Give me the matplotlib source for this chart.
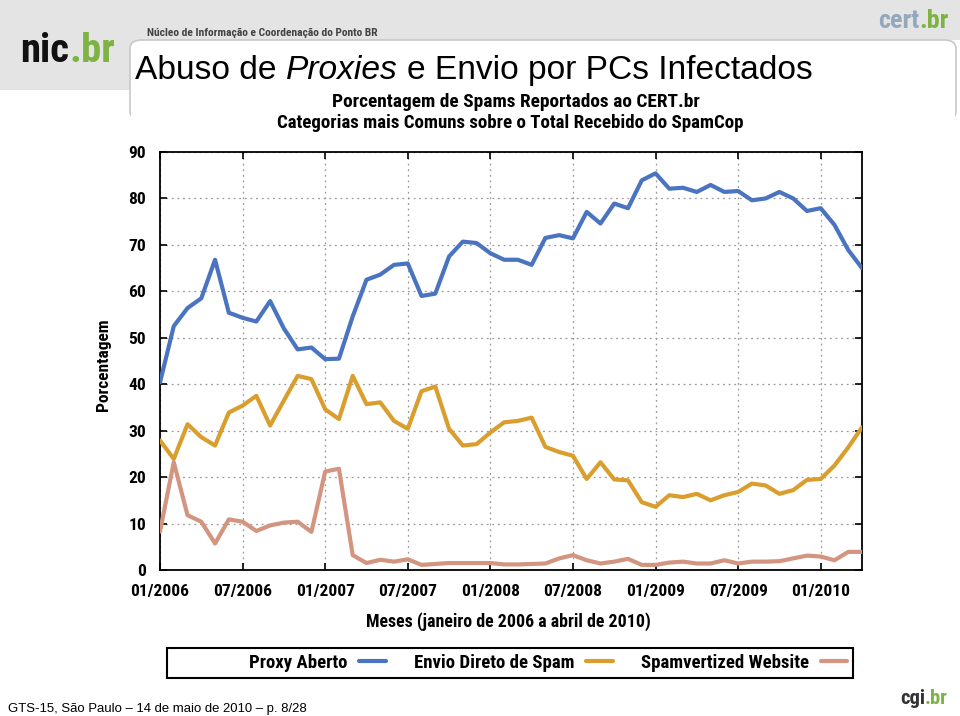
import matplotlib
matplotlib.use("Agg")
import matplotlib.pyplot as plt
from matplotlib.patches import Rectangle, FancyBboxPatch
from matplotlib import font_manager as fm

W, H = 960, 716

months = list(range(52))
tick_pos = [0, 6, 12, 18, 24, 30, 36, 42, 48]
tick_labels = ["01/2006", "07/2006", "01/2007", "07/2007", "01/2008",
               "07/2008", "01/2009", "07/2009", "01/2010"]

proxy_aberto = [40.4, 52.5, 56.4, 58.5, 66.8, 55.4, 54.3, 53.5, 57.9, 52.0,
                47.5, 47.9, 45.4, 45.5, 54.6, 62.5, 63.6, 65.7, 66.0, 59.0,
                59.5, 67.5, 70.7, 70.4, 68.2, 66.8, 66.8, 65.7, 71.5, 72.1,
                71.4, 77.1, 74.6, 78.9, 77.9, 83.9, 85.4, 82.1, 82.3, 81.4,
                82.9, 81.4, 81.6, 79.6, 80.0, 81.4, 80.0, 77.3, 77.9, 74.3,
                68.9, 65.0]
envio_direto = [27.9, 23.9, 31.4, 28.6, 26.8, 33.9, 35.4, 37.5, 31.1, 36.5,
                41.8, 41.1, 34.6, 32.5, 41.8, 35.7, 36.1, 32.1, 30.4, 38.5,
                39.5, 30.4, 26.8, 27.1, 29.6, 31.8, 32.1, 32.8, 26.5, 25.4,
                24.6, 19.6, 23.2, 19.5, 19.3, 14.6, 13.6, 16.1, 15.7, 16.4,
                15.0, 16.1, 16.8, 18.6, 18.2, 16.4, 17.2, 19.4, 19.6, 22.5,
                26.4, 30.7]
spamvertized = [8.3, 23.2, 11.8, 10.4, 5.7, 10.9, 10.4, 8.4, 9.6, 10.2,
                10.4, 8.2, 21.2, 21.8, 3.2, 1.5, 2.2, 1.8, 2.3, 1.1,
                1.3, 1.5, 1.5, 1.5, 1.5, 1.2, 1.2, 1.3, 1.4, 2.5,
                3.2, 2.1, 1.4, 1.8, 2.4, 1.1, 1.1, 1.6, 1.8, 1.4,
                1.4, 2.1, 1.4, 1.8, 1.8, 1.9, 2.5, 3.1, 2.9, 2.1,
                3.9, 3.9]

series_names = ["Proxy Aberto", "Envio Direto de Spam", "Spamvertized Website"]
colors = ["#4a74c0", "#d99e2e", "#d39480"]

# choose a narrow bold face if one is installed
ttf = fm.fontManager.ttflist
names = {f.name for f in ttf}
NARROW = {"family": "Roboto"}
if "Liberation Sans Narrow" in names:
    NARROW = {"family": "Liberation Sans Narrow"}
elif "Roboto Condensed" in names:
    NARROW = {"family": "Roboto Condensed"}
elif any(f.name == "DejaVu Sans" and str(f.stretch) in ("condensed", "semi-condensed", "75", "87")
         for f in ttf):
    NARROW = {"family": "DejaVu Sans", "fontstretch": "condensed"}
elif "Roboto" not in names:
    NARROW = {"family": "Liberation Sans"}
SANS = "Liberation Sans"

fig = plt.figure(figsize=(W / 100, H / 100), dpi=100)
fig.patch.set_facecolor("white")

def fx(px):
    return px / W

def fy(py):
    return 1 - py / H

# slide header background
fig.patches.append(Rectangle((0, fy(40)), 1, 40 / H, transform=fig.transFigure,
                             facecolor="#e4e4e4", edgecolor="none", zorder=0))
fig.patches.append(Rectangle((0, fy(90)), fx(135), 90 / H, transform=fig.transFigure,
                             facecolor="#e4e4e4", edgecolor="none", zorder=0))
fig.patches.append(FancyBboxPatch((fx(130), fy(120)), fx(826), 80 / H,
                                  boxstyle="round,pad=0,rounding_size=0.012",
                                  transform=fig.transFigure, facecolor="white",
                                  edgecolor="#c8c8c8", linewidth=1.2, zorder=0.5))
fig.patches.append(Rectangle((fx(131), fy(125)), fx(824), 40 / H, transform=fig.transFigure,
                             facecolor="white", edgecolor="none", zorder=0.6))

renderer = fig.canvas.get_renderer()

def seq_text(x_px, y_px, parts, size, width_px=None, gap_em=0.0, **kw):
    """Draw pieces side by side; scale font so total width matches width_px."""
    def draw(sz):
        x = x_px
        made = []
        for s, props in parts:
            d = dict(kw)
            d.update(props)
            t = fig.text(fx(x), fy(y_px), s, ha="left", va="baseline", fontsize=sz, **d)
            made.append(t)
            bb = t.get_window_extent(renderer)
            x += bb.width + gap_em * sz * 100 / 72
        return made, x - x_px - gap_em * sz * 100 / 72
    made, w = draw(size)
    if width_px is not None and w > 0:
        for t in made:
            t.remove()
        made, w = draw(size * width_px / w)
    return made

def fit_text(x_px, y_px, s, size, width_px, ha="left", **kw):
    t = fig.text(fx(x_px), fy(y_px), s, ha=ha, va="baseline", fontsize=size, **kw)
    w = t.get_window_extent(renderer).width
    if w > 0:
        t.set_fontsize(size * width_px / w)
    return t

# logos
seq_text(20, 62, [("nic", {"color": "#111111"}), (".br", {"color": "#7cb342"})],
         36, width_px=95, fontweight="bold", zorder=3, **NARROW)
seq_text(878, 28, [("cert", {"color": "#93a8bd"}), (".br", {"color": "#7cb342"})],
         20, width_px=70, fontweight="bold", zorder=3, **NARROW)
seq_text(900, 704, [("cgi", {"color": "#333333"}), (".br", {"color": "#7cb342"})],
         20, width_px=48, fontweight="bold", zorder=3, **NARROW)

fit_text(147, 36, "Núcleo de Informação e Coordenação do Ponto BR", 8, 232,
         fontweight="bold", color="#444444", **NARROW)

# slide title
seq_text(135, 79, [("Abuso de", {}), ("Proxies", {"style": "italic"}),
                   ("e Envio por PCs Infectados", {})],
         25, width_px=680, gap_em=0.28, family=SANS, color="black", zorder=3)

# chart titles
fit_text(516, 107, "Porcentagem de Spams Reportados ao CERT.br", 12, 368,
         ha="center", fontweight="bold", **NARROW)
fit_text(510, 128, "Categorias mais Comuns sobre o Total Recebido do SpamCop", 12, 466,
         ha="center", fontweight="bold", **NARROW)

# axes
ax = fig.add_axes([fx(160), fy(570), fx(862) - fx(160), (570 - 152) / H])
lines = []
for vals, c, name in zip([proxy_aberto, envio_direto, spamvertized], colors, series_names):
    ln, = ax.plot(months, vals, color=c, linewidth=3.0, label=name,
                  solid_joinstyle="round", solid_capstyle="round", zorder=3)
    lines.append(ln)

ax.set_xlim(0, 51)
ax.set_ylim(0, 90)
ax.set_xticks(tick_pos)
ax.set_xticklabels(tick_labels)
ax.set_yticks(range(0, 91, 10))
ax.grid(True, color="#9a9a9a", linestyle=(0, (1.5, 3)), linewidth=0.9)
ax.tick_params(direction="in", length=5, width=1.2, top=True, right=True,
               labelsize=12.5, pad=10)
for lab in ax.get_xticklabels() + ax.get_yticklabels():
    lab.set_fontweight("bold")
    lab.set_family(NARROW["family"])
    if "fontstretch" in NARROW:
        lab.set_fontstretch(NARROW["fontstretch"])
for sp in ax.spines.values():
    sp.set_linewidth(1.3)
    sp.set_color("black")

fig.text(fx(103), fy(365), "Porcentagem", rotation=90,
         fontweight="bold", fontsize=12.5, ha="center", va="center", **NARROW)
fit_text(508, 627, "Meses (janeiro de 2006 a abril de 2010)", 12, 286,
         ha="center", fontweight="bold", **NARROW)

# legend
fig.patches.append(Rectangle((fx(167), fy(678)), fx(853) - fx(167), 30 / H,
                             transform=fig.transFigure, facecolor="white",
                             edgecolor="black", linewidth=1.5, zorder=1))
prop = {"family": NARROW["family"], "weight": "bold", "size": 13.5}
if "fontstretch" in NARROW:
    prop["stretch"] = NARROW["fontstretch"]
leg = fig.legend(handles=lines, loc="center", bbox_to_anchor=(fx(548), fy(663)),
                 ncol=3, frameon=False, markerfirst=False, handlelength=1.4,
                 columnspacing=1.5, handletextpad=0.65, prop=prop)
leg.set_zorder(5)

# footer
fit_text(8, 712, "GTS-15, São Paulo – 14 de maio de 2010 – p. 8/28", 10, 300,
         family=SANS)

fig.savefig("out.png", dpi=100)
